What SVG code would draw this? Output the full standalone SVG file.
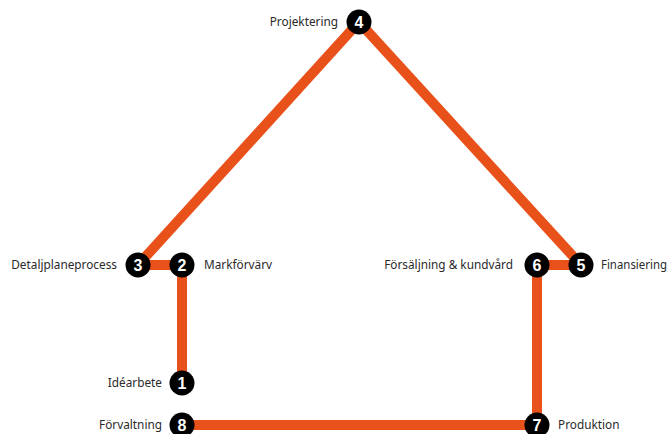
<svg xmlns="http://www.w3.org/2000/svg" width="669" height="434" viewBox="0 0 669 434">
<style>
.c{stroke:#E8521A;stroke-width:10;fill:none;stroke-linejoin:miter}
.n circle{fill:#000}
.n text{fill:#fff;font-family:"Liberation Sans",Arial,sans-serif;font-weight:bold;font-size:16px;text-anchor:middle}
.l{fill:#2a2a2a;font-family:"Noto Sans","Liberation Sans",sans-serif;font-size:11.8px}
.r{text-anchor:end}
</style>
<rect width="669" height="434" fill="#fff"/>
<g id="connectors">
<polyline class="c" points="182,383 182,265 138,265 359,22 581,265 537,265 537,425"/>
<line class="c" x1="182" y1="425" x2="537" y2="425"/>
</g>
<g id="n1" class="n"><circle cx="182" cy="383" r="12.5"/><text x="182" y="389">1</text></g>
<g id="n2" class="n"><circle cx="182" cy="265" r="12.5"/><text x="182" y="271">2</text></g>
<g id="n3" class="n"><circle cx="138" cy="265" r="12.5"/><text x="138" y="271">3</text></g>
<g id="n4" class="n"><circle cx="359" cy="22" r="12.5"/><text x="359" y="28">4</text></g>
<g id="n5" class="n"><circle cx="581" cy="265" r="12.5"/><text x="581" y="271">5</text></g>
<g id="n6" class="n"><circle cx="537" cy="265" r="12.5"/><text x="537" y="271">6</text></g>
<g id="n7" class="n"><circle cx="537" cy="425" r="12.5"/><text x="537" y="431">7</text></g>
<g id="n8" class="n"><circle cx="182" cy="425" r="12.5"/><text x="182" y="431">8</text></g>
<g id="labels">
<text class="l r" x="162" y="387">Idéarbete</text>
<text class="l" x="204" y="269">Markförvärv</text>
<text class="l r" x="117" y="269">Detaljplaneprocess</text>
<text class="l r" x="338" y="26">Projektering</text>
<text class="l" x="601" y="269" textLength="66" lengthAdjust="spacingAndGlyphs">Finansiering</text>
<text class="l r" x="513" y="269">Försäljning &amp; kundvård</text>
<text class="l" x="558" y="429">Produktion</text>
<text class="l r" x="162" y="429">Förvaltning</text>
</g>
</svg>
